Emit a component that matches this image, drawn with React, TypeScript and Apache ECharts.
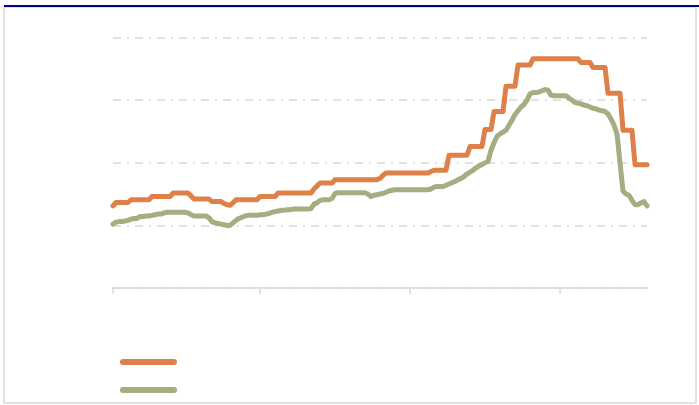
import React, { useEffect, useRef } from "react";
import * as echarts from "echarts";

// Series values (one point every 3 px)
const orangeSeries: number[] = [
  1.31, 1.365, 1.365, 1.365, 1.365, 1.365, 1.41, 1.41, 1.41, 1.41,
  1.41, 1.41, 1.41, 1.46, 1.46, 1.46, 1.46, 1.46, 1.46, 1.46,
  1.515, 1.515, 1.515, 1.515, 1.515, 1.515, 1.47, 1.42, 1.42, 1.42,
  1.42, 1.42, 1.42, 1.38, 1.38, 1.38, 1.38, 1.35, 1.33, 1.32,
  1.36, 1.41, 1.41, 1.41, 1.41, 1.41, 1.41, 1.41, 1.41, 1.46,
  1.46, 1.46, 1.46, 1.46, 1.46, 1.515, 1.515, 1.515, 1.515, 1.515,
  1.515, 1.515, 1.515, 1.515, 1.515, 1.515, 1.515, 1.58, 1.63, 1.675,
  1.675, 1.675, 1.675, 1.675, 1.73, 1.73, 1.73, 1.73, 1.73, 1.73,
  1.73, 1.73, 1.73, 1.73, 1.73, 1.73, 1.73, 1.73, 1.73, 1.75,
  1.8, 1.835, 1.835, 1.835, 1.835, 1.835, 1.835, 1.835, 1.835, 1.835,
  1.835, 1.835, 1.835, 1.835, 1.835, 1.835, 1.86, 1.88, 1.88, 1.88,
  1.88, 1.88, 2.12, 2.12, 2.12, 2.12, 2.12, 2.12, 2.12, 2.26,
  2.26, 2.26, 2.26, 2.26, 2.53, 2.53, 2.53, 2.82, 2.82, 2.82,
  2.82, 3.22, 3.22, 3.22, 3.22, 3.56, 3.56, 3.56, 3.56, 3.56,
  3.66, 3.66, 3.66, 3.66, 3.66, 3.66, 3.66, 3.66, 3.66, 3.66,
  3.66, 3.66, 3.66, 3.66, 3.66, 3.66, 3.6, 3.6, 3.6, 3.6,
  3.52, 3.52, 3.52, 3.52, 3.52, 3.11, 3.11, 3.11, 3.11, 3.11,
  2.52, 2.52, 2.52, 2.52, 1.97, 1.97, 1.97, 1.97, 1.97,
];

const greenSeries: number[] = [
  1.02, 1.05, 1.06, 1.06, 1.07, 1.08, 1.1, 1.11, 1.11, 1.14,
  1.14, 1.15, 1.15, 1.16, 1.17, 1.18, 1.18, 1.2, 1.21, 1.21,
  1.21, 1.21, 1.21, 1.21, 1.21, 1.2, 1.17, 1.15, 1.15, 1.15,
  1.15, 1.15, 1.12, 1.06, 1.04, 1.03, 1.02, 1.01, 1.0, 1.0,
  1.04, 1.08, 1.11, 1.13, 1.15, 1.16, 1.16, 1.16, 1.16, 1.17,
  1.17, 1.18, 1.19, 1.21, 1.22, 1.23, 1.24, 1.24, 1.25, 1.25,
  1.26, 1.26, 1.26, 1.26, 1.26, 1.26, 1.27, 1.34, 1.36, 1.4,
  1.41, 1.41, 1.41, 1.43, 1.51, 1.52, 1.52, 1.52, 1.52, 1.52,
  1.52, 1.52, 1.52, 1.52, 1.52, 1.5, 1.46, 1.48, 1.49, 1.5,
  1.51, 1.53, 1.55, 1.56, 1.57, 1.57, 1.57, 1.57, 1.57, 1.57,
  1.57, 1.57, 1.57, 1.57, 1.57, 1.57, 1.58, 1.61, 1.62, 1.62,
  1.62, 1.64, 1.66, 1.68, 1.7, 1.73, 1.75, 1.78, 1.82, 1.85,
  1.88, 1.92, 1.95, 1.97, 2.0, 2.02, 2.2, 2.32, 2.42, 2.46,
  2.49, 2.52, 2.6, 2.68, 2.77, 2.83, 2.89, 2.93, 3.0, 3.1,
  3.12, 3.12, 3.13, 3.15, 3.17, 3.16, 3.08, 3.07, 3.07, 3.07,
  3.07, 3.07, 3.03, 3.0, 2.96, 2.95, 2.94, 2.92, 2.91, 2.89,
  2.87, 2.86, 2.84, 2.83, 2.82, 2.78, 2.7, 2.6, 2.46, 2.0,
  1.55, 1.5, 1.48, 1.4, 1.33, 1.33, 1.36, 1.38, 1.31,
];

// Category positions (one per observation) and where the axis ticks fall
const categories: string[] = orangeSeries.map((_, i) => String(i));
const tickIndices: number[] = [0, 49, 99, 149];

// Y axis scale (no labels shown in the reference)
const yMin = 0;
const yMax = 4;
const yInterval = 1;

const ORANGE = "#DF8049";
const GREEN = "#A6AD80";
const GRID_GREY = "#D9D9D9";

export default function App() {
  const ref = useRef<HTMLDivElement>(null);

  useEffect(() => {
    if (!ref.current) return;
    const chart = echarts.init(ref.current, undefined, { renderer: "svg" });
    chart.setOption({
      animation: false,
      backgroundColor: "#ffffff",
      grid: { left: 113, right: 52, top: 37.5, bottom: 117, containLabel: false },
      xAxis: {
        type: "category",
        data: categories,
        boundaryGap: false,
        axisLine: { show: true, lineStyle: { color: GRID_GREY, width: 1.5 } },
        axisTick: {
          show: true,
          length: 6,
          interval: (index: number) => tickIndices.includes(index),
          lineStyle: { color: GRID_GREY, width: 1.5 },
        },
        axisLabel: { show: false },
        splitLine: { show: false },
      },
      yAxis: {
        type: "value",
        min: yMin,
        max: yMax,
        interval: yInterval,
        axisLine: { show: false },
        axisTick: { show: false },
        axisLabel: { show: false },
        splitLine: {
          show: true,
          lineStyle: { color: GRID_GREY, width: 1.5, type: [8, 6, 2, 6] },
        },
      },
      series: [
        {
          name: "Series A",
          type: "line",
          data: orangeSeries,
          showSymbol: false,
          symbol: "none",
          lineStyle: { color: ORANGE, width: 5, cap: "round", join: "round" },
          z: 3,
        },
        {
          name: "Series B",
          type: "line",
          data: greenSeries,
          showSymbol: false,
          symbol: "none",
          lineStyle: { color: GREEN, width: 5, cap: "round", join: "round" },
          z: 2,
        },
      ],
      graphic: [
        {
          type: "rect",
          shape: { x: 4, y: 7, width: 692, height: 396 },
          style: { fill: "none", stroke: "#D9D9D9", lineWidth: 1.5 },
          silent: true,
        },
        {
          type: "line",
          shape: { x1: 4, y1: 6, x2: 699, y2: 6 },
          style: { stroke: "#000080", lineWidth: 2 },
          silent: true,
        },
        {
          type: "line",
          shape: { x1: 123, y1: 362, x2: 174, y2: 362 },
          style: { stroke: ORANGE, lineWidth: 6, lineCap: "round" },
          silent: true,
        },
        {
          type: "line",
          shape: { x1: 123, y1: 390, x2: 174, y2: 390 },
          style: { stroke: GREEN, lineWidth: 6, lineCap: "round" },
          silent: true,
        },
      ],
    });
    return () => chart.dispose();
  }, []);

  return (
    <div
      ref={ref}
      style={{ position: "fixed", left: 0, top: 0, width: 699, height: 405, background: "#fff" }}
    />
  );
}
